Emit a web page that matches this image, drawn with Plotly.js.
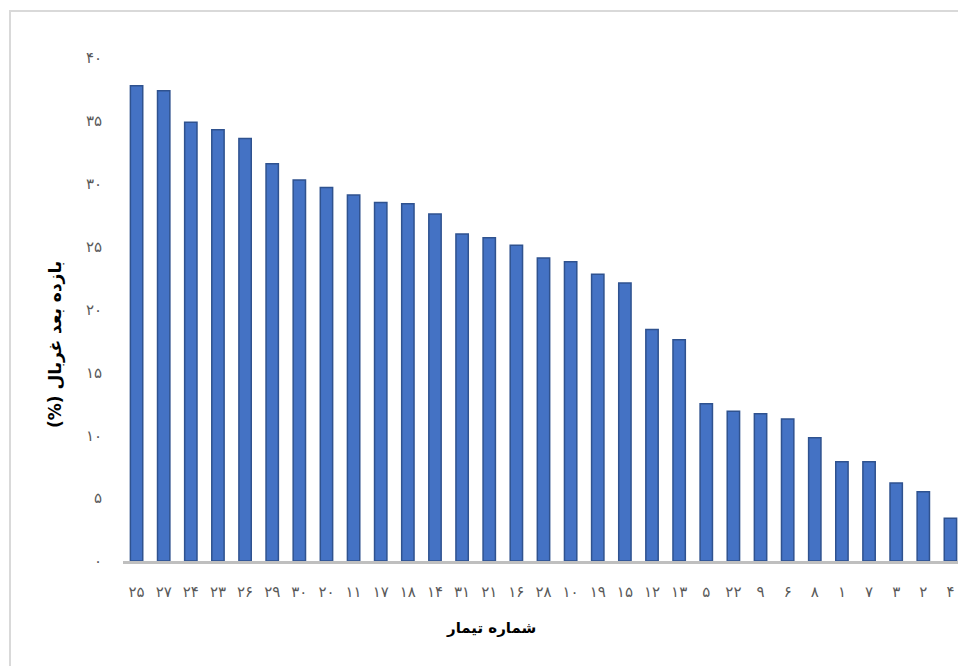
<!DOCTYPE html>
<html>
<head>
<meta charset="utf-8">
<script src="https://cdn.plot.ly/plotly-3.0.1.min.js"></script>
<style>
  html, body { margin: 0; padding: 0; background: #ffffff; overflow: hidden; }
  #frame {
    position: absolute; left: 9px; top: 10px; right: -40px; bottom: -40px;
    border-top: 2px solid #d9d9d9; border-left: 2px solid #d9d9d9;
    pointer-events: none; z-index: 2;
  }
  #chart { position: absolute; left: 0; top: 0; }
</style>
</head>
<body>
<div id="chart"></div>
<div id="frame"></div>
<script>
// Treatment numbers (Persian digits), sorted by screening yield
const treatments = ['۲۵','۲۷','۲۴','۲۳','۲۶','۲۹','۳۰','۲۰','۱۱','۱۷','۱۸','۱۴','۳۱','۲۱','۱۶',
                    '۲۸','۱۰','۱۹','۱۵','۱۲','۱۳','۵','۲۲','۹','۶','۸','۱','۷','۳','۲','۴'];

// Yield after screening (%)
const yieldPct = [37.8, 37.4, 34.9, 34.3, 33.6, 31.6, 30.3, 29.7, 29.1, 28.5, 28.4, 27.6, 26.0, 25.7, 25.1,
                  24.1, 23.8, 22.8, 22.1, 18.4, 17.6, 12.5, 11.9, 11.7, 11.3, 9.8, 7.9, 7.9, 6.2, 5.5, 3.4];

// Y axis ticks
const yTickVals = [0, 5, 10, 15, 20, 25, 30, 35, 40];
const yTickText = ['۰','۵','۱۰','۱۵','۲۰','۲۵','۳۰','۳۵','۴۰'];

// "(%)" is written first so it sits on the visual left (bottom once rotated)
const yTitle = '(%) بازده بعد غربال';
const xTitle = 'شماره تیمار';

const trace = {
  type: 'bar',
  x: treatments,
  y: yieldPct,
  marker: { color: '#4472C4', line: { color: '#2F528F', width: 1.5 } },
  hoverinfo: 'x+y'
};

const W = 980, H = 666;
const L = 123, R = 16, T = 58, B = 105;

const layout = {
  width: W, height: H,
  autosize: false,
  margin: { l: L, r: R, t: T, b: B, pad: 0 },
  paper_bgcolor: '#ffffff',
  plot_bgcolor: '#ffffff',
  bargap: 0.545,
  showlegend: false,
  font: { family: 'DejaVu Sans, sans-serif', color: '#595959' },
  xaxis: {
    type: 'category',
    showgrid: false,
    zeroline: false,
    showline: true,
    linecolor: '#bfbfbf',
    linewidth: 2.5,
    ticks: '',
    ticklabelstandoff: 15,
    tickangle: 0,
    tickfont: { family: 'DejaVu Sans, sans-serif', size: 15, color: '#595959' },
    fixedrange: true
  },
  yaxis: {
    range: [0, 40],
    showgrid: false,
    zeroline: false,
    showline: false,
    tickmode: 'array',
    tickvals: yTickVals,
    ticktext: yTickText,
    ticks: '',
    ticklabelstandoff: 20,
    tickfont: { family: 'DejaVu Sans, sans-serif', size: 15, color: '#595959' },
    fixedrange: true
  },
  annotations: [
    {
      text: '<b>' + yTitle + '</b>',
      xref: 'paper', yref: 'paper',
      x: (55 - L) / (W - L - R), y: (H - B - 345) / (H - T - B),
      xanchor: 'center', yanchor: 'middle',
      textangle: -90,
      showarrow: false,
      font: { family: 'DejaVu Sans, sans-serif', size: 17, color: '#000000' }
    },
    {
      text: '<b>' + xTitle + '</b>',
      xref: 'paper', yref: 'paper',
      x: (491 - L) / (W - L - R), y: (H - B - 628) / (H - T - B),
      xanchor: 'center', yanchor: 'middle',
      showarrow: false,
      font: { family: 'DejaVu Sans, sans-serif', size: 15, color: '#000000' }
    }
  ]
};

Plotly.newPlot('chart', [trace], layout, { displayModeBar: false, staticPlot: true });
</script>
</body>
</html>
